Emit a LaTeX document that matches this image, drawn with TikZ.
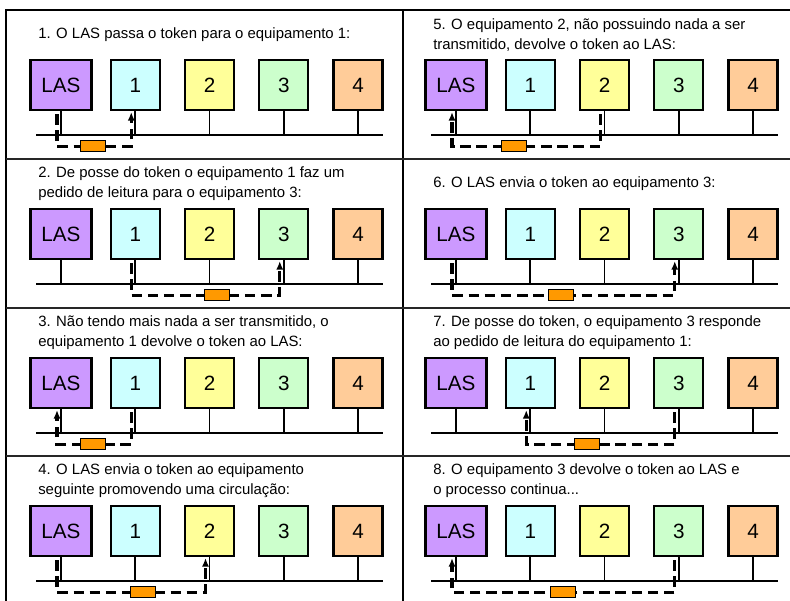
\documentclass[tikz,border=0pt]{standalone}
\usepackage{fontspec}
\setmainfont{Liberation Sans}
\usetikzlibrary{arrows.meta, calc}
\definecolor{lascolor}{HTML}{CC99FF}
\definecolor{eqonecolor}{HTML}{CCFFFF}
\definecolor{eqtwocolor}{HTML}{FFFF99}
\definecolor{eqthreecolor}{HTML}{CCFFCC}
\definecolor{eqfourcolor}{HTML}{FFCC99}
\definecolor{tokencolor}{HTML}{FF9900}
\tikzset{
    eqnode/.style={rectangle, draw=black, line width=1.5pt, minimum width=1.225cm, minimum height=1.25cm, inner sep=0pt, font=\fontsize{14.7}{17}\selectfont},
    lasnode/.style={eqnode, fill=lascolor, minimum width=1.525cm},
    busline/.style={line width=1.4pt},
    dropline/.style={line width=1.3pt},
    tokenpath/.style={-{Latex[length=6pt,width=5pt]}, line width=2.2pt, dash pattern=on 7.5pt off 4pt},
    tokenbox/.style={rectangle, draw=black, line width=0.6pt, fill=tokencolor, minimum width=0.625cm, minimum height=0.275cm, inner sep=0pt, solid},
    steptitle/.style={anchor=west, align=left, inner sep=0pt, font=\fontsize{10.6}{14.2}\selectfont},
    frame/.style={line width=1.5pt},
    divider/.style={line width=1.3pt, draw=black!85}
}

\begin{document}
\begin{tikzpicture}[x=0.025cm, y=-0.025cm]
    \useasboundingbox (0,0) rectangle (790,600);
    \clip (0,0) rectangle (790,600);

    % Frame and panel dividers
    \draw[frame] (6,10) rectangle (800,606);
    \draw[frame] (403,10) -- (403,606);
    \foreach \y in {159,308,456}
        \draw[divider] (6,\y) -- (800,\y);

    % Panels: number/origin x/origin y/source/target/token position
    \foreach \p/\ox/\oy/\src/\dst/\tpos in {1/6/10/0/1/0.245, 2/6/159/1/3/0.29, 3/6/308/1/0/0.26, 4/6/456/0/2/0.29,
                                           5/401/10/2/0/0.29, 6/401/159/0/3/0.245, 7/401/308/3/1/0.295, 8/401/456/3/0/0.25} {
        \begin{scope}[shift={(\ox,\oy)}]
            \node[lasnode] (p\p-0) at (55,75) {LAS};
            \foreach \k/\cor in {1/eqonecolor, 2/eqtwocolor, 3/eqthreecolor, 4/eqfourcolor}
                \node[eqnode, fill=\cor] (p\p-\k) at ({55+74.25*\k},75) {\k};

            % Bus and drops
            \coordinate (p\p-w) at (30,125);
            \coordinate (p\p-e) at (377,125);
            \draw[busline] (p\p-w) -- (p\p-e);
            \foreach \k in {0,...,4}
                \draw[dropline] (p\p-\k.south) -- (p\p-\k.south |- p\p-w);

            % Token passing
            \draw[tokenpath] ($(p\p-\src.south)+(-4,3)$) -- ++(0,32)
                -| node[tokenbox, pos=\tpos] (p\p-tk) {} ($(p\p-\dst.south)+(-4,1)$);
        \end{scope}
    }

    % Step descriptions
    \node[steptitle] (t1) at (38,35) {1. O LAS passa o token para o equipamento 1:};
    \node[steptitle] (t2) at (38,184) {2. De posse do token o equipamento 1 faz um\\pedido de leitura para o equipamento 3:};
    \node[steptitle] (t3) at (38,333) {3. Não tendo mais nada a ser transmitido, o\\equipamento 1 devolve o token ao LAS:};
    \node[steptitle] (t4) at (38,481) {4. O LAS envia o token ao equipamento\\seguinte promovendo uma circulação:};
    \node[steptitle] (t5) at (433,35) {5. O equipamento 2, não possuindo nada a ser\\transmitido, devolve o token ao LAS:};
    \node[steptitle] (t6) at (433,184) {6. O LAS envia o token ao equipamento 3:};
    \node[steptitle] (t7) at (433,333) {7. De posse do token, o equipamento 3 responde\\ao pedido de leitura do equipamento 1:};
    \node[steptitle] (t8) at (433,481) {8. O equipamento 3 devolve o token ao LAS e\\o processo continua...};
\end{tikzpicture}
\end{document}
